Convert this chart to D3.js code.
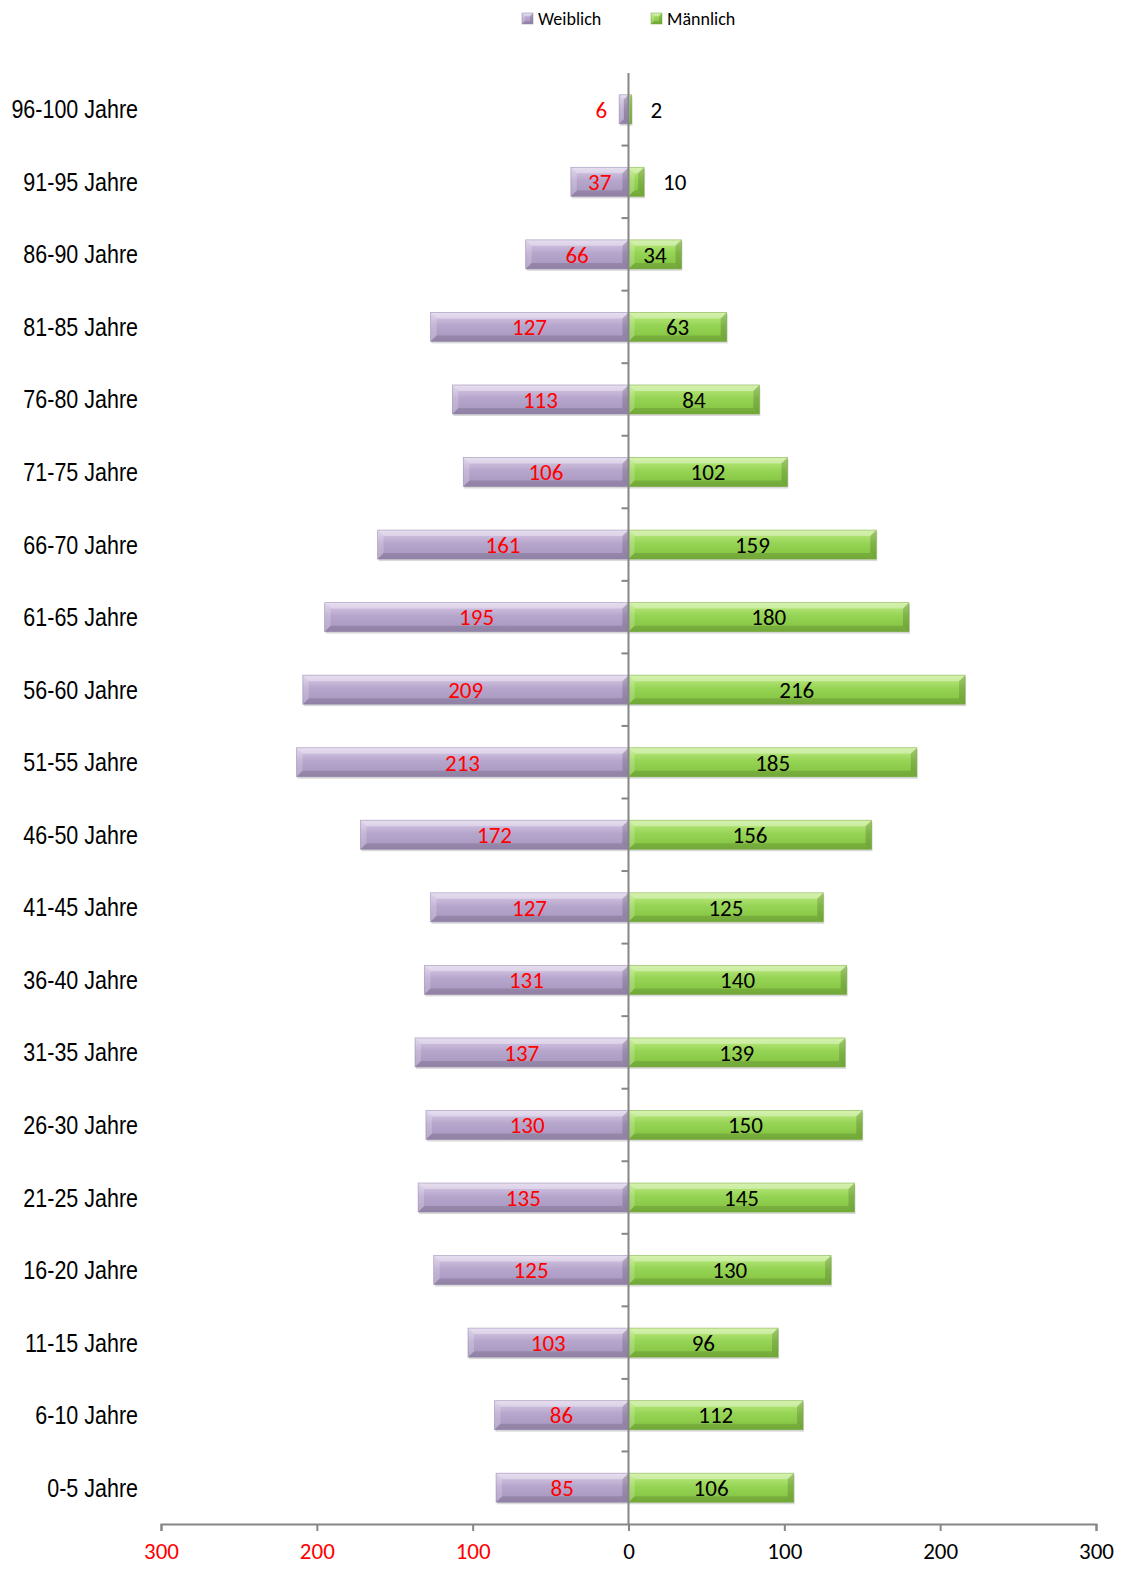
<!DOCTYPE html>
<html>
<head>
<meta charset="utf-8">
<script src="https://cdn.jsdelivr.net/npm/d3@7"></script>
<style>
html, body { margin: 0; padding: 0; background: #fff; overflow: hidden; }
#root { width: 1138px; height: 1584px; }
svg { display: block; }
</style>
</head>
<body>
<div id="root"></div>
<script>
const ageGroups = ["96-100 Jahre", "91-95 Jahre", "86-90 Jahre", "81-85 Jahre", "76-80 Jahre",
	"71-75 Jahre", "66-70 Jahre", "61-65 Jahre", "56-60 Jahre", "51-55 Jahre", "46-50 Jahre",
	"41-45 Jahre", "36-40 Jahre", "31-35 Jahre", "26-30 Jahre", "21-25 Jahre", "16-20 Jahre",
	"11-15 Jahre", "6-10 Jahre", "0-5 Jahre"];
const female = [6, 37, 66, 127, 113, 106, 161, 195, 209, 213, 172, 127, 131, 137, 130, 135, 125, 103, 86, 85];
const male = [2, 10, 34, 63, 84, 102, 159, 180, 216, 185, 156, 125, 140, 139, 150, 145, 130, 96, 112, 106];
const xTicks = [-300, -200, -100, 0, 100, 200, 300];
const seriesNames = ["Weiblich", "Männlich"];

const labelFont = "Carlito, 'Open Sans', sans-serif";
const catFont = "'Liberation Sans', Arial, sans-serif";
const axisGray = "#868686";

const makeChart = () => {
	const svg = d3.select("#root").append("svg")
		.attr("width", 1138)
		.attr("height", 1584);

	const x = d3.scaleLinear().domain([-300, 300]).range([161, 1096]);
	const y = d3.scaleBand().domain(ageGroups).range([73, 1524]).paddingInner(0.6).paddingOuter(0.3);

	const defs = svg.append("defs");
	makeGradient(defs, "gradF", ["#d9cce8", "#b7a6cc", "#a594bd"]);
	makeGradient(defs, "gradM", ["#c0ec84", "#96d455", "#82c03f"]);

	const rows = ageGroups.map((g, i) => ({ group: g, f: female[i], m: male[i] }));

	// vertical axis with ticks between categories
	const vAxis = svg.append("g");
	vAxis.selectAll(".vtick")
		.data(d3.range(1, ageGroups.length))
		.enter().append("line")
		.attr("x1", x(0) - 7).attr("x2", x(0))
		.attr("y1", d => 73 + d * y.step())
		.attr("y2", d => 73 + d * y.step())
		.style("stroke", axisGray).style("stroke-width", 2);

	// bars
	rows.forEach(r => {
		drawBar(svg, x(-r.f), x(0), y(r.group), y.bandwidth(), "url(#gradF)", "#8f7fa8");
		drawBar(svg, x(0), x(r.m), y(r.group), y.bandwidth(), "url(#gradM)", "#6fa534");
	});

	// zero line over the bars
	svg.append("line")
		.attr("x1", x(0)).attr("x2", x(0))
		.attr("y1", 73).attr("y2", 1524)
		.style("stroke", axisGray).style("stroke-width", 2);

	// value labels
	const labels = svg.append("g")
		.style("font-family", labelFont)
		.style("font-size", "23px");

	rows.forEach(r => {
		const cy = y(r.group) + y.bandwidth() / 2;
		const wf = x(0) - x(-r.f);
		const wm = x(r.m) - x(0);
		labels.append("text")
			.attr("x", wf < 30 ? x(-r.f) - 12 : (x(-r.f) + x(0)) / 2)
			.attr("y", cy)
			.attr("dy", "0.36em")
			.attr("text-anchor", wf < 30 ? "end" : "middle")
			.style("fill", "#ff0000")
			.text(r.f);
		labels.append("text")
			.attr("x", wm < 30 ? x(r.m) + 19 : (x(0) + x(r.m)) / 2)
			.attr("y", cy)
			.attr("dy", "0.36em")
			.attr("text-anchor", wm < 30 ? "start" : "middle")
			.style("fill", "#000")
			.text(r.m);
	});

	// category labels (condensed)
	svg.append("g")
		.selectAll("text")
		.data(ageGroups)
		.enter().append("text")
		.attr("transform", d => `translate(138, ${ y(d) + y.bandwidth() / 2 }) scale(0.86, 1)`)
		.attr("dy", "0.36em")
		.attr("text-anchor", "end")
		.style("font-family", catFont)
		.style("font-size", "25px")
		.style("fill", "#000")
		.text(d => d);

	// x axis
	const xAxis = svg.append("g")
		.attr("transform", "translate(0,1524)")
		.call(d3.axisBottom(x).tickValues(xTicks).tickSize(7).tickPadding(12).tickFormat(d => Math.abs(d)));
	xAxis.select(".domain").style("stroke", axisGray).style("stroke-width", 2);
	xAxis.selectAll(".tick line").style("stroke", axisGray).style("stroke-width", 2);
	xAxis.selectAll(".tick text")
		.style("font-family", labelFont)
		.style("font-size", "23px")
		.style("fill", d => d < 0 ? "#ff0000" : "#000");

	// legend
	const legend = svg.append("g")
		.style("font-family", labelFont)
		.style("font-size", "18px");
	const legendX = [522, 651];
	seriesNames.forEach((name, i) => {
		const g = legend.append("g").attr("transform", `translate(${ legendX[i] }, 13)`);
		drawBar(g, 0, 11, 0, 11, i == 0 ? "url(#gradF)" : "url(#gradM)", i == 0 ? "#8f7fa8" : "#6fa534", 3, false);
		g.append("text")
			.attr("x", 16).attr("y", 6)
			.attr("dy", "0.36em")
			.style("fill", "#000")
			.text(name);
	});
};

const makeGradient = (defs, id, stops) => {
	const grad = defs.append("linearGradient")
		.attr("id", id)
		.attr("x1", 0).attr("y1", 0).attr("x2", 0).attr("y2", 1);
	grad.append("stop").attr("offset", "0%").attr("stop-color", stops[0]);
	grad.append("stop").attr("offset", "45%").attr("stop-color", stops[1]);
	grad.append("stop").attr("offset", "100%").attr("stop-color", stops[2]);
};

const drawBar = (container, x0, x1, y0, h, fill, edge, bevel = 6, shadow = true) => {
	const g = container.append("g");
	const y1 = y0 + h;
	if (shadow) {
		g.append("rect")
			.attr("x", x0 + 1).attr("y", y0 + 2)
			.attr("width", Math.max(0, x1 - x0)).attr("height", h)
			.style("fill", "#000").style("opacity", 0.15);
	}
	g.append("rect")
		.attr("x", x0).attr("y", y0)
		.attr("width", Math.max(0, x1 - x0)).attr("height", h)
		.style("fill", fill);
	const b = Math.min(bevel, (x1 - x0) / 2, h / 2);
	const facets = [
		{ p: [[x0, y0], [x1, y0], [x1 - b, y0 + b], [x0 + b, y0 + b]], c: "#fff", o: 0.35 },
		{ p: [[x0, y1], [x1, y1], [x1 - b, y1 - b], [x0 + b, y1 - b]], c: "#000", o: 0.12 },
		{ p: [[x0, y0], [x0 + b, y0 + b], [x0 + b, y1 - b], [x0, y1]], c: "#fff", o: 0.2 },
		{ p: [[x1, y0], [x1 - b, y0 + b], [x1 - b, y1 - b], [x1, y1]], c: "#000", o: 0.15 }
	];
	g.selectAll(".facet")
		.data(facets)
		.enter().append("polygon")
		.attr("points", d => d.p.map(q => q.join(",")).join(" "))
		.style("fill", d => d.c)
		.style("opacity", d => d.o);
	g.append("rect")
		.attr("x", x0).attr("y", y0)
		.attr("width", Math.max(0, x1 - x0)).attr("height", h)
		.style("fill", "none").style("stroke", edge).style("stroke-width", 0.8).style("stroke-opacity", 0.6);
};

makeChart();
</script>
</body>
</html>
